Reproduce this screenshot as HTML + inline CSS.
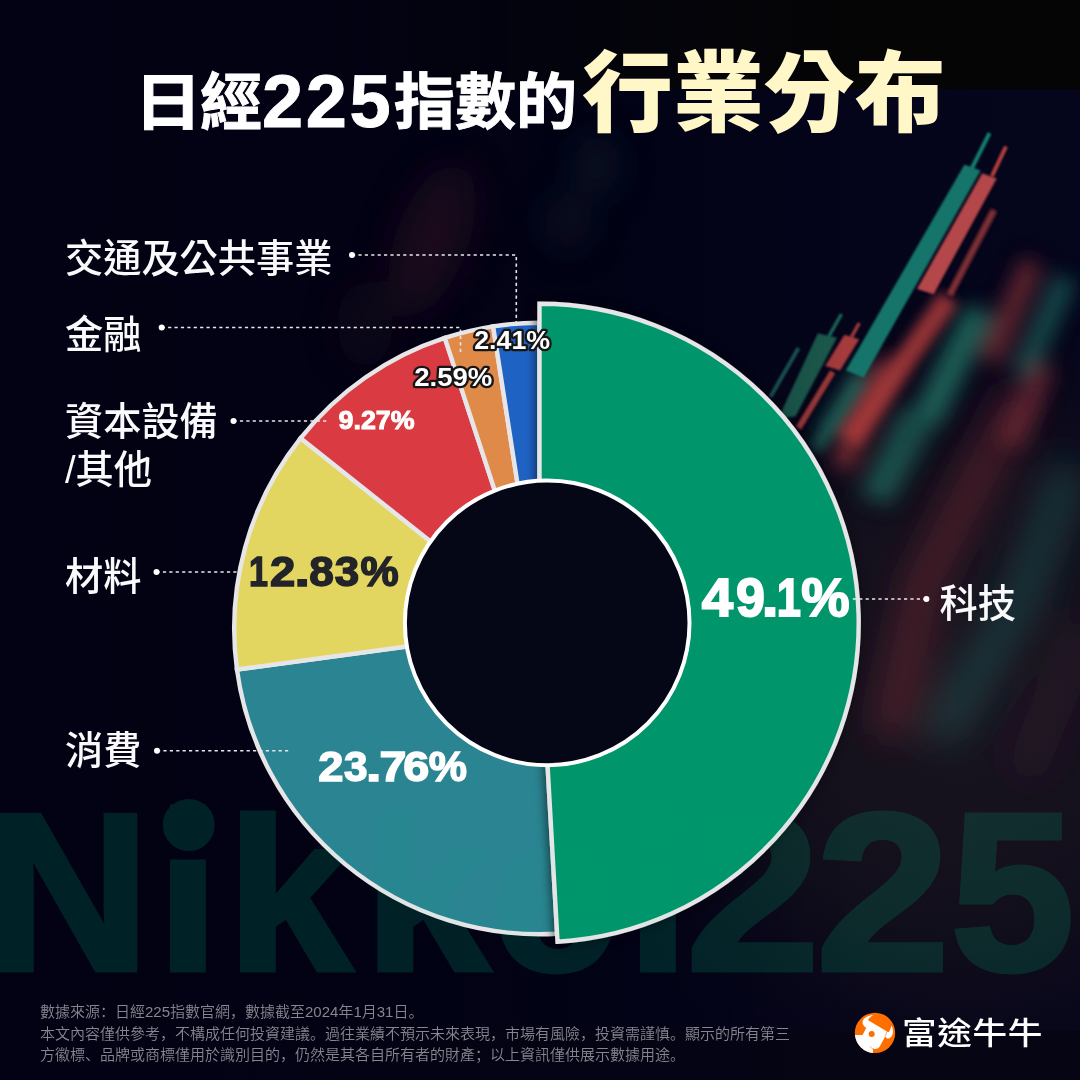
<!DOCTYPE html>
<html lang="zh-Hant">
<head>
<meta charset="utf-8">
<title>日經225指數的行業分布</title>
<style>
html,body{margin:0;padding:0;}
body{width:1080px;height:1080px;overflow:hidden;background:#04041a;position:relative;font-family:"Liberation Sans","Noto Sans CJK TC",sans-serif;}
#stage{position:absolute;left:0;top:0;width:1080px;height:1080px;overflow:hidden;}
svg{position:absolute;left:0;top:0;}
.t{position:absolute;white-space:nowrap;line-height:1;}
.tt{color:#ffffff;font-weight:700;font-size:62px;-webkit-text-stroke:0.9px #ffffff;}
.lab{font-size:38.2px;font-weight:500;color:#fafafc;}
.foot{font-size:15px;font-weight:350;color:#86868f;font-family:"Liberation Sans","Noto Sans CJK SC",sans-serif;}
</style>
</head>
<body>
<div id="stage">
<svg id="bg" width="1080" height="1080" viewBox="0 0 1080 1080">
<defs>
<linearGradient id="topband" x1="0" y1="0" x2="1" y2="0">
<stop offset="0" stop-color="#020214"/><stop offset="0.35" stop-color="#030310"/><stop offset="0.7" stop-color="#050507"/><stop offset="1" stop-color="#050505"/>
</linearGradient>
<linearGradient id="photo" x1="0" y1="0" x2="1" y2="0">
<stop offset="0" stop-color="#020214"/><stop offset="0.45" stop-color="#030316"/><stop offset="0.75" stop-color="#04041a"/><stop offset="1" stop-color="#05051b"/>
</linearGradient>
<radialGradient id="haze" cx="960" cy="700" r="420" gradientUnits="userSpaceOnUse">
<stop offset="0" stop-color="#1a151f" stop-opacity="1"/><stop offset="0.55" stop-color="#15111c" stop-opacity="0.8"/><stop offset="1" stop-color="#0a0818" stop-opacity="0"/>
</radialGradient>
<filter id="b1" x="-50%" y="-50%" width="200%" height="200%"><feGaussianBlur stdDeviation="1"/></filter>
<filter id="b3" x="-50%" y="-50%" width="200%" height="200%"><feGaussianBlur stdDeviation="3"/></filter>
<filter id="b6" x="-50%" y="-50%" width="200%" height="200%"><feGaussianBlur stdDeviation="6"/></filter>
<filter id="b10" x="-50%" y="-50%" width="200%" height="200%"><feGaussianBlur stdDeviation="10"/></filter>
<filter id="b18" x="-50%" y="-50%" width="200%" height="200%"><feGaussianBlur stdDeviation="18"/></filter>
<filter id="b30" x="-50%" y="-50%" width="200%" height="200%"><feGaussianBlur stdDeviation="30"/></filter>
<clipPath id="photoclip"><rect x="0" y="89" width="1080" height="942"/></clipPath>
</defs>
<rect x="0" y="0" width="1080" height="1080" fill="#040414"/>
<rect x="0" y="0" width="1080" height="89" fill="#050506"/>
<g clip-path="url(#photoclip)">
<rect x="0" y="89" width="1080" height="942" fill="url(#photo)"/>
<rect x="0" y="89" width="1080" height="942" fill="url(#haze)"/>
<!-- far blurred stripes (right side) -->
<g filter="url(#b18)" stroke-linecap="round" stroke-linejoin="round" fill="none">
<path d="M1017,403 L925,579 L893,720" stroke="#6a2630" stroke-width="34" opacity="0.66"/>
<path d="M1066,480 L1020,600 L946,725" stroke="#1f5a58" stroke-width="34" opacity="0.55"/>
<line x1="1080" y1="640" x2="1030" y2="760" stroke="#3a2030" stroke-width="40" opacity="0.35"/>
</g>
<!-- mid blurred candles -->
<g filter="url(#b10)" fill="none">
<line x1="1032" y1="262" x2="990" y2="360" stroke="#7a2c34" stroke-width="22" opacity="0.8"/>
<line x1="1066" y1="278" x2="1022" y2="376" stroke="#1f6a60" stroke-width="22" opacity="0.7"/>
<line x1="1045" y1="365" x2="1008" y2="445" stroke="#7a2c34" stroke-width="24" opacity="0.65"/>
<line x1="980" y1="310" x2="926" y2="420" stroke="#1f7a68" stroke-width="30" opacity="0.75"/>
<line x1="926" y1="420" x2="880" y2="500" stroke="#1f7a68" stroke-width="24" opacity="0.5"/>
<line x1="890" y1="360" x2="841" y2="466" stroke="#a83a3c" stroke-width="20" opacity="0.75"/>
<line x1="911" y1="410" x2="869" y2="498" stroke="#1f6a60" stroke-width="22" opacity="0.6"/>
<line x1="866" y1="364" x2="823" y2="435" stroke="#1f6a60" stroke-width="16" opacity="0.6"/>
</g>
<g filter="url(#b6)" fill="none">
<line x1="949" y1="298" x2="849" y2="440" stroke="#a8393b" stroke-width="22" opacity="0.85"/>
<line x1="860" y1="380" x2="815" y2="450" stroke="#1d6a5c" stroke-width="14" opacity="0.7"/>
</g>
<!-- sharp candles -->
<g filter="url(#b1)">
<line x1="989.6" y1="133" x2="972" y2="168" stroke="#128072" stroke-width="4"/>
<polygon points="964.4,164.4 980.7,170.4 863.7,377.8 845.9,370.4" fill="#12756a"/>
<line x1="1006" y1="146.5" x2="992" y2="176" stroke="#b8433f" stroke-width="4"/>
<polygon points="982.2,173.3 996.8,178.6 933.6,294.2 917,288.9" fill="#b3474a"/>
<line x1="994" y1="210" x2="949.6" y2="295" stroke="#8a3439" stroke-width="7" opacity="0.9" filter="url(#b1)"/>
<line x1="841.5" y1="314" x2="829" y2="336" stroke="#1b6a5a" stroke-width="3.5"/>
<polygon points="817.8,333.3 837,337.8 795.6,416.3 777.8,419.3" fill="#1b5a4e"/>
<line x1="859.3" y1="323" x2="851.5" y2="337" stroke="#a53b3c" stroke-width="3.5"/>
<polygon points="844.4,334.8 859.3,339.3 840,370.4 825.2,365.9" fill="#a53b3c"/>
<line x1="832.6" y1="371.9" x2="798.5" y2="428.1" stroke="#9a383a" stroke-width="6"/>
<line x1="798.5" y1="348" x2="770.4" y2="397" stroke="#1b5a58" stroke-width="4"/>
</g>
</g>
<rect x="0" y="1031" width="1080" height="49" fill="#050514"/>
<!-- left readability overlay -->
<defs><linearGradient id="leftov" x1="0" y1="0" x2="1" y2="0"><stop offset="0" stop-color="#020214" stop-opacity="1"/><stop offset="0.28" stop-color="#020214" stop-opacity="0.92"/><stop offset="0.5" stop-color="#020214" stop-opacity="0.55"/><stop offset="0.78" stop-color="#020214" stop-opacity="0"/></linearGradient></defs>
<rect x="0" y="0" width="1080" height="1080" fill="url(#leftov)"/>
<!-- faint bokeh glows in centre -->
<g filter="url(#b18)">
<ellipse cx="432" cy="240" rx="36" ry="80" fill="#4a2030" opacity="0.34" transform="rotate(20 432 240)"/>
<ellipse cx="597" cy="165" rx="22" ry="32" fill="#1e4a4a" opacity="0.22"/>
<ellipse cx="567" cy="222" rx="25" ry="30" fill="#1e4a4a" opacity="0.18"/>
<ellipse cx="365" cy="325" rx="28" ry="45" fill="#4a1c26" opacity="0.16"/>
</g>

</svg>
<svg id="nikkei" width="1080" height="1080" viewBox="0 0 1080 1080">
<defs><clipPath id="nkclipa"><path clip-rule="evenodd" d="M-50,810.5H1130V1080H-50Z M158,780H220V859.5H158Z M628,780H690V859.5H628Z"/></clipPath></defs>
<g id="nk" opacity="0.125" fill="#00dc96" stroke="#00dc96" stroke-width="5" stroke-linejoin="miter" font-family="'Liberation Sans',sans-serif" font-weight="700" font-size="225">
<text clip-path="url(#nkclipa)" id="nk1" x="-12.6 156.75 226.75 364.25 491.7 626.75" y="970">Nikkei</text>
<text id="nk2" transform="scale(1.07,1)" x="641.2 762.7" y="970">22</text>
<text id="nk3" transform="scale(0.99,1)" x="960.2" y="970">5</text>
<circle cx="188.75" cy="825" r="23.5"/>
<circle cx="658" cy="825" r="23.5"/>
</g>
</svg>
<svg id="pie" width="1080" height="1080" viewBox="0 0 1080 1080">
<defs>
<filter id="gshadow" x="-10%" y="-10%" width="120%" height="120%"><feDropShadow dx="-2" dy="0" stdDeviation="5" flood-color="#000" flood-opacity="0.55"/></filter>
</defs>
<path d="M540.00,628.50 L557.28,933.81 A305.8,305.8 0 0 1 236.96,669.49 Z" fill="#2a8491" stroke="#e6e6e8" stroke-width="4.4" stroke-linejoin="miter"/>
<path d="M540.00,628.50 L236.96,669.49 A305.8,305.8 0 0 1 300.63,438.20 Z" fill="#e2d661" stroke="#e6e6e8" stroke-width="4.4" stroke-linejoin="miter"/>
<path d="M540.00,628.50 L300.63,438.20 A305.8,305.8 0 0 1 444.77,337.91 Z" fill="#da3a41" stroke="#e6e6e8" stroke-width="4.4" stroke-linejoin="miter"/>
<path d="M540.00,628.50 L444.77,337.91 A305.8,305.8 0 0 1 493.11,326.32 Z" fill="#e08a4a" stroke="#e6e6e8" stroke-width="4.4" stroke-linejoin="miter"/>
<path d="M540.00,628.50 L493.11,326.32 A305.8,305.8 0 0 1 539.23,322.70 Z" fill="#1e62c4" stroke="#e6e6e8" stroke-width="4.4" stroke-linejoin="miter"/>
<path d="M539.50,623.00 L539.50,303.80 A319.2,319.2 0 0 1 557.54,941.69 Z" fill="#03956a" stroke="#e6e6e8" stroke-width="4.4" stroke-linejoin="miter" filter="url(#gshadow)"/>
<circle cx="547.2" cy="622.9" r="142.3" fill="#050616" stroke="#ffffff" stroke-width="4"/>
</svg>
<svg id="nikkei2" width="1080" height="1080" viewBox="0 0 1080 1080">
<defs><clipPath id="nkclipb"><path clip-rule="evenodd" d="M-50,810.5H1130V1080H-50Z M158,780H220V859.5H158Z M628,780H690V859.5H628Z"/></clipPath></defs>
<g id="nkb" opacity="0.03" fill="#00dc96" stroke="#00dc96" stroke-width="5" stroke-linejoin="miter" font-family="'Liberation Sans',sans-serif" font-weight="700" font-size="225">
<text clip-path="url(#nkclipb)" id="nkb1" x="-12.6 156.75 226.75 364.25 491.7 626.75" y="970">Nikkei</text>
<text id="nkb2" transform="scale(1.07,1)" x="641.2 762.7" y="970">22</text>
<text id="nkb3" transform="scale(0.99,1)" x="960.2" y="970">5</text>
<circle cx="188.75" cy="825" r="23.5"/>
<circle cx="658" cy="825" r="23.5"/>
</g>
</svg>
<svg id="lines" width="1080" height="1080" viewBox="0 0 1080 1080">
<g fill="none" stroke="#e8e8ec" stroke-width="1.6" stroke-dasharray="3.2 3.2">
<path d="M352,255 H516.3 V322"/>
<path d="M161.7,327.5 H460.5 V354"/>
<path d="M233.5,421 H327"/>
<path d="M156.5,572 H240"/>
<path d="M157,750.8 H290"/>
<path d="M926.4,599 H852"/>
</g>
<g fill="#ffffff">
<circle cx="352" cy="255" r="3"/>
<circle cx="161.7" cy="327.5" r="3"/>
<circle cx="233.5" cy="421" r="3"/>
<circle cx="156.5" cy="572" r="3"/>
<circle cx="157" cy="750.8" r="3"/>
<circle cx="926.4" cy="599" r="3"/>
</g>
<g font-family="'Liberation Sans',sans-serif" font-weight="700" text-anchor="start">
<text id="p491" y="615.6" font-size="54.4" fill="#ffffff" stroke="#ffffff" stroke-width="1.8" ><tspan x="701.75" textLength="31.33" lengthAdjust="spacingAndGlyphs">4</tspan><tspan x="736.08" textLength="28.95" lengthAdjust="spacingAndGlyphs">9</tspan><tspan x="761.80" textLength="16.76" lengthAdjust="spacingAndGlyphs">.</tspan><tspan x="776.76" textLength="24.20" lengthAdjust="spacingAndGlyphs">1</tspan><tspan x="801.34" textLength="48.38" lengthAdjust="spacingAndGlyphs">%</tspan></text>
<text id="p2376" y="780.6" font-size="42.6" fill="#ffffff" stroke="#ffffff" stroke-width="1.5" ><tspan x="318.36" textLength="25.20" lengthAdjust="spacingAndGlyphs">2</tspan><tspan x="343.98" textLength="23.49" lengthAdjust="spacingAndGlyphs">3</tspan><tspan x="366.08" textLength="15.40" lengthAdjust="spacingAndGlyphs">.</tspan><tspan x="379.47" textLength="26.91" lengthAdjust="spacingAndGlyphs">7</tspan><tspan x="403.22" textLength="26.02" lengthAdjust="spacingAndGlyphs">6</tspan><tspan x="428.88" textLength="38.19" lengthAdjust="spacingAndGlyphs">%</tspan></text>
<text id="p1283" y="586.2" font-size="42.6" fill="#23232a" stroke="#23232a" stroke-width="1.5" ><tspan x="248.90" textLength="18.95" lengthAdjust="spacingAndGlyphs">1</tspan><tspan x="269.96" textLength="25.31" lengthAdjust="spacingAndGlyphs">2</tspan><tspan x="294.43" textLength="15.40" lengthAdjust="spacingAndGlyphs">.</tspan><tspan x="309.33" textLength="24.59" lengthAdjust="spacingAndGlyphs">8</tspan><tspan x="334.74" textLength="24.39" lengthAdjust="spacingAndGlyphs">3</tspan><tspan x="360.48" textLength="38.19" lengthAdjust="spacingAndGlyphs">%</tspan></text>
<text id="p927" x="338.6" y="429.2" font-size="26.4" fill="#ffffff" stroke="#ffffff" stroke-width="1" textLength="76" lengthAdjust="spacingAndGlyphs">9.27%</text>
<text id="p259" x="414.2" y="385.7" font-size="26.1" fill="#ffffff" stroke="#161616" stroke-width="4.6" paint-order="stroke" stroke-linejoin="round" textLength="78.2" lengthAdjust="spacingAndGlyphs">2.59%</text>
<text id="p241" x="474.2" y="349.3" font-size="26.1" fill="#ffffff" stroke="#161616" stroke-width="4.6" paint-order="stroke" stroke-linejoin="round" textLength="76" lengthAdjust="spacingAndGlyphs">2.41%</text>
</g>
</svg>
<div class="t tt" id="t0" style="left:133.5px;top:72.5px;transform:scaleX(1.1);transform-origin:0 0;">日</div>
<div class="t tt" id="t1" style="left:200px;top:73px;">經</div>
<div class="t tt" id="t2" style="left:262px;top:64.5px;font-size:74px;letter-spacing:2.6px;">225</div>
<div class="t tt" id="t3" style="left:394px;top:73px;font-size:61px;">指數的</div>
<div class="t tt" id="t4" style="left:582px;top:50px;font-size:88px;font-weight:900;color:#fff7c8;-webkit-text-stroke:0;transform:scaleX(1.033);transform-origin:0 0;">行業分布</div>
<div class="t lab" id="l1" style="left:65px;top:240px;">交通及公共事業</div>
<div class="t lab" id="l2" style="left:65px;top:316px;">金融</div>
<div class="t lab" id="l3" style="left:65px;top:397.5px;line-height:48px;">資本設備<br>/其他</div>
<div class="t lab" id="l4" style="left:65px;top:558px;">材料</div>
<div class="t lab" id="l5" style="left:65px;top:731.8px;">消費</div>
<div class="t lab" id="l6" style="left:939.5px;top:585px;">科技</div>
<div class="t foot" lang="zh-Hans" id="f1" style="left:40px;top:1004px;">數據來源：日經225指數官網，數據截至2024年1月31日。</div>
<div class="t foot" lang="zh-Hans" id="f2" style="left:40px;top:1026px;">本文內容僅供參考，不構成任何投資建議。過往業績不預示未來表現，市場有風險，投資需謹慎。顯示的所有第三</div>
<div class="t foot" lang="zh-Hans" id="f3" style="left:40px;top:1046.5px;">方徽標、品牌或商標僅用於識別目的，仍然是其各自所有者的財產；以上資訊僅供展示數據用途。</div>
<svg id="logo" width="1080" height="1080" viewBox="0 0 1080 1080">
<g transform="translate(850,1008) scale(0.046296)">
<circle cx="540" cy="538" r="436" fill="#ff6f00"/>
<path d="M107,583 L270,583 L350,430 C300,400 258,340 275,280 C292,215 400,160 498,152 C450,185 400,225 392,262 L800,505 C815,532 850,525 865,470 C880,430 890,400 900,385 C950,480 940,600 850,655 C810,670 780,650 762,610 L640,835 C610,885 520,895 495,870 L495,972 A436,436 0 0 1 107,583 Z" fill="#ffffff"/>
<circle cx="468" cy="560" r="65" fill="#ff6f00"/>
<path d="M792,512 L766,606" stroke="#ff6f00" stroke-width="13" fill="none"/>
<path d="M436,826 C446,858 470,876 498,880" stroke="#ff6f00" stroke-width="11" fill="none"/>
</g>
</svg>
<div class="t" id="brand" style="left:902px;top:1017.5px;font-size:31px;color:#ffffff;font-weight:500;letter-spacing:0.6px;transform:scaleX(1.115);transform-origin:0 0;">富途牛牛</div>

</div>
</body>
</html>
